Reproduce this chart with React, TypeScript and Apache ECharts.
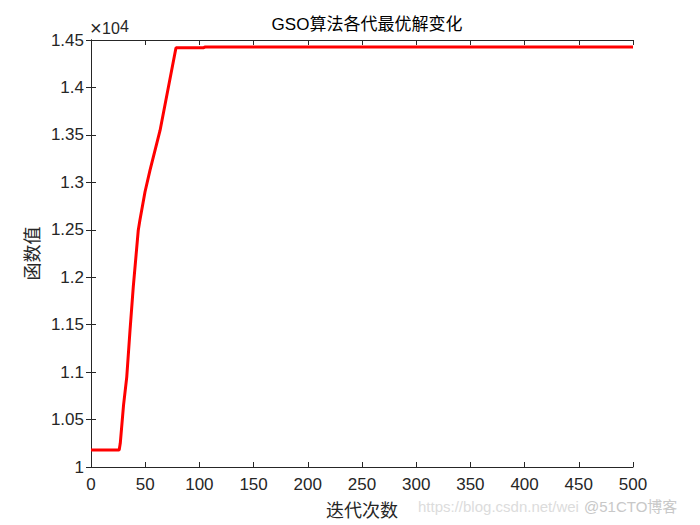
import React, { useEffect, useRef } from "react";
import * as echarts from "echarts";

const iterations = [0, 26, 27, 30, 33, 36, 39, 43.6, 45.1, 49.8, 54.4, 63.7, 78.4, 104, 105, 500];
const bestValues = [10179, 10179, 10250, 10650, 10950, 11442, 11898, 12495, 12600, 12898, 13126, 13547, 14418, 14419, 14425, 14425];
const xTicks = [0, 50, 100, 150, 200, 250, 300, 350, 400, 450, 500];
const yTickLabels = ["1", "1.05", "1.1", "1.15", "1.2", "1.25", "1.3", "1.35", "1.4", "1.45"];

export default function App() {
  const ref = useRef<HTMLDivElement>(null);
  useEffect(() => {
    if (!ref.current) return;
    const chart = echarts.init(ref.current, undefined, { renderer: "svg" });
    const axisColor = "#262626";
    const font = "Arial, 'Liberation Sans', 'Noto Sans CJK SC', sans-serif";
    const data = iterations.map((x, i) => [x, bestValues[i]]);
    const commonX = {
      type: "value" as const,
      min: 0,
      max: 500,
      interval: 50,
      axisLine: { show: true, lineStyle: { color: axisColor, width: 1 } },
      axisTick: { show: true, inside: true, length: 5, lineStyle: { color: axisColor } },
      splitLine: { show: false },
    };
    const commonY = {
      type: "value" as const,
      min: 10000,
      max: 14500,
      interval: 500,
      axisLine: { show: true, lineStyle: { color: axisColor, width: 1 } },
      axisTick: { show: true, inside: true, length: 5, lineStyle: { color: axisColor } },
      splitLine: { show: false },
    };
    chart.setOption({
      animation: false,
      backgroundColor: "#ffffff",
      title: {
        text: "GSO算法各代最优解变化",
        left: 362,
        top: 11,
        textAlign: "center",
        textStyle: { fontSize: 17, fontWeight: "normal", color: "#000", fontFamily: font },
      },
      grid: { left: 91, right: 67, top: 40, bottom: 58, containLabel: false },
      xAxis: [
        {
          ...commonX,
          position: "bottom",
          name: "迭代次数",
          nameLocation: "middle",
          nameGap: 33,
          nameTextStyle: { fontSize: 18, color: axisColor, fontFamily: "'Noto Sans CJK SC', sans-serif" },
          axisLabel: {
            show: true,
            margin: 9,
            fontSize: 17,
            color: axisColor,
            fontFamily: font,
            formatter: (v: number) => (xTicks.includes(v) ? String(v) : ""),
          },
        },
        { ...commonX, position: "top", axisLabel: { show: false } },
      ],
      yAxis: [
        {
          ...commonY,
          position: "left",
          name: "函数值",
          nameLocation: "middle",
          nameGap: 42,
          nameRotate: 90,
          nameTextStyle: { fontSize: 18, color: axisColor, fontFamily: "'Noto Sans CJK SC', sans-serif" },
          axisLabel: {
            show: true,
            margin: 7,
            fontSize: 17,
            color: axisColor,
            fontFamily: font,
            formatter: (v: number) => yTickLabels[Math.round((v - 10000) / 500)] ?? "",
          },
        },
        { ...commonY, position: "right", axisLabel: { show: false } },
      ],
      graphic: [
        {
          type: "text",
          left: 90,
          top: 18,
          style: { text: "×", fontSize: 20, fill: axisColor, fontFamily: font },
        },
        {
          type: "text",
          left: 102,
          top: 20,
          style: { text: "10", fontSize: 16, fill: axisColor, fontFamily: font },
        },
        {
          type: "text",
          left: 120,
          top: 18,
          style: { text: "4", fontSize: 16, fill: axisColor, fontFamily: font },
        },
        {
          type: "text",
          left: 418,
          top: 499,
          style: { text: "https://blog.csdn.net/wei", fontSize: 15, fill: "#dcdcdc", fontFamily: font },
        },
        {
          type: "text",
          left: 584,
          top: 499,
          style: { text: "@51CTO博客", fontSize: 15, fill: "#c8c8c8", fontFamily: font },
        },
      ],
      series: [
        {
          type: "line",
          xAxisIndex: 0,
          yAxisIndex: 0,
          data,
          showSymbol: false,
          symbol: "none",
          lineStyle: { color: "#ff0000", width: 3 },
          clip: true,
        },
      ],
    });
    return () => chart.dispose();
  }, []);
  return <div ref={ref} style={{ position: "fixed", left: 0, top: 0, width: 700, height: 525 }} />;
}
